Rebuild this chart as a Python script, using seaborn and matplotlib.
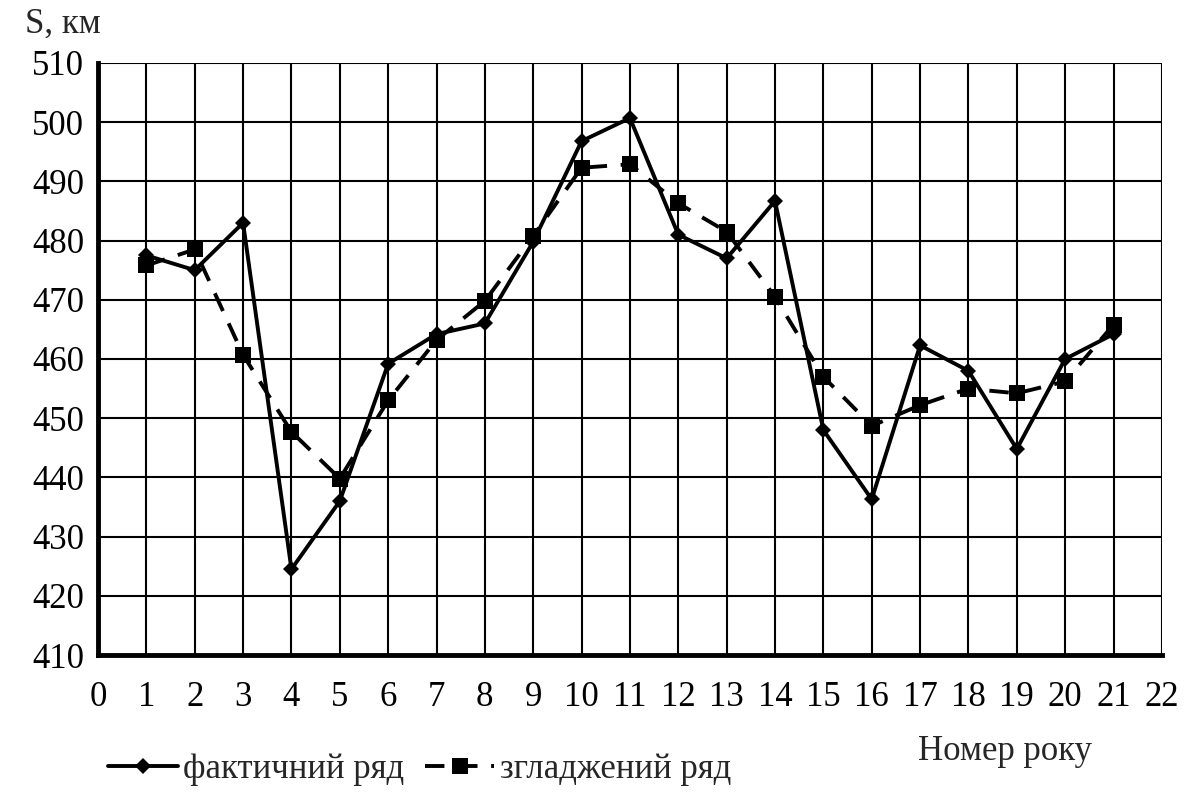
import matplotlib
matplotlib.use('Agg')
import matplotlib.pyplot as plt
import seaborn as sns
import pandas as pd

# values
years = list(range(1, 22))
actual = [477.5, 475.0, 483.0, 424.5, 436.0, 459.2, 464.2, 466.0, 479.8, 496.8, 500.7,
          481.0, 477.0, 486.7, 448.0, 436.3, 462.3, 458.0, 444.8, 460.0, 464.2]
smoothed = [475.8, 478.5, 460.7, 447.7, 439.8, 453.0, 463.2, 469.8, 480.8, 492.3, 492.9,
            486.3, 481.5, 470.5, 457.0, 448.7, 452.2, 455.0, 454.2, 456.2, 465.8]
x_ticks = list(range(0, 23))
y_ticks = list(range(410, 511, 10))

df = pd.DataFrame({'year': years, 'actual': actual, 'smoothed': smoothed})

sns.set_style('white')
plt.rcParams['font.family'] = ['Liberation Serif', 'DejaVu Serif']
fs = 25

fig = plt.figure(figsize=(12.04, 7.93), dpi=100)
ax = fig.add_axes([0.0814, 0.174, 0.8836, 0.7466])

sns.lineplot(data=df, x='year', y='smoothed', ax=ax, color='black', lw=2.8,
             linestyle=(0, (5, 3.5)), marker='s', markersize=11, markeredgewidth=0,
             label='згладжений ряд', zorder=3)
sns.lineplot(data=df, x='year', y='actual', ax=ax, color='black', lw=2.8,
             marker='D', markersize=8, markeredgewidth=0,
             label='фактичний ряд', zorder=4)

ax.set_xlim(0, 22)
ax.set_ylim(410, 510)
ax.set_xticks(x_ticks)
ax.set_yticks(y_ticks)
ax.grid(True, color='black', lw=1.5)
ax.set_axisbelow(True)
for s in ['top', 'right']:
    ax.spines[s].set_visible(False)
for s in ['left', 'bottom']:
    ax.spines[s].set_linewidth(3.5)
    ax.spines[s].set_color('black')
ax.tick_params(axis='both', labelsize=fs, length=7, width=3, direction='out', colors='black', pad=3)
ax.tick_params(axis='x', pad=12)
ax.set_xlabel('')
ax.set_ylabel('')

fig.text(0.021, 0.97, 'S, км', fontsize=fs, ha='left', va='center')
fig.text(0.835, 0.052, 'Номер року', fontsize=fs, ha='center', va='center')

h, l = ax.get_legend_handles_labels()
ax.legend(h[::-1], l[::-1], loc='center left', bbox_to_anchor=(0.09, 0.03),
          bbox_transform=fig.transFigure, ncol=2, frameon=False, fontsize=fs,
          handlelength=2.0, handletextpad=0.15, columnspacing=0.6, borderaxespad=0,
          borderpad=0)

fig.savefig('out.png', dpi=100)
